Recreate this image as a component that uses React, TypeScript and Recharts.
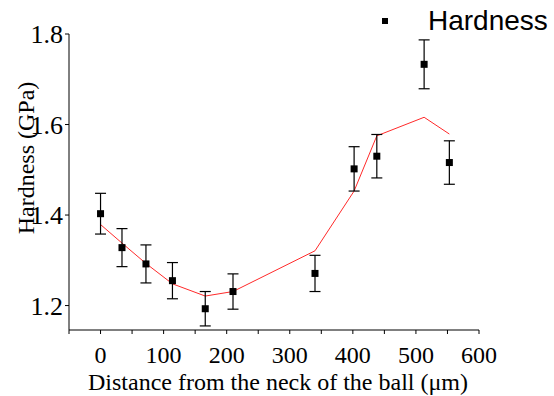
import { ComposedChart, Line, Scatter, ErrorBar, XAxis, YAxis, Legend } from 'recharts';

const distance = [0, 34, 72, 114, 166, 210, 340, 402, 438, 513, 553];
const hardness = [1.403, 1.328, 1.292, 1.255, 1.193, 1.231, 1.271, 1.502, 1.53, 1.733, 1.516];
const hardnessErr = [0.045, 0.042, 0.042, 0.04, 0.038, 0.039, 0.04, 0.049, 0.048, 0.054, 0.048];
const fitted = [1.379, 1.338, 1.293, 1.248, 1.221, 1.231, 1.321, 1.453, 1.575, 1.616, 1.579];

const xTicks = [-50, 0, 50, 100, 150, 200, 250, 300, 350, 400, 450, 500, 550, 600];
const yTicks = [1.2, 1.4, 1.6, 1.8];

const data = distance.map((d, i) => ({
  x: d,
  hardness: hardness[i],
  err: hardnessErr[i],
  fit: fitted[i],
}));

const SERIF = '"Liberation Serif", "Times New Roman", serif';
const SANS = '"Liberation Sans", Arial, sans-serif';

const SquareDot = (props: any) => {
  const { cx, cy } = props;
  if (cx == null || cy == null) return null;
  return <rect x={cx - 3.5} y={cy - 3.5} width={7} height={7} fill="#000" />;
};

const renderLegend = (props: any) => {
  const items = (props.payload || []).filter((p: any) => p.type !== 'none');
  return (
    <svg width={184} height={40}>
      {items.map((entry: any, i: number) => (
        <g key={i}>
          <rect x={12} y={18} width={6} height={6} fill="#000" />
          <text x={58} y={30} fontFamily={SANS} fontSize={28} fill="#000">
            {entry.value}
          </text>
        </g>
      ))}
    </svg>
  );
};

const XTitle = (props: any) => {
  const vb = props.viewBox || {};
  return (
    <text x={vb.x + vb.width / 2 + 4} y={vb.y + 60} textAnchor="middle" fontFamily={SERIF} fontSize={24} fill="#000">
      Distance from the neck of the ball (μm)
    </text>
  );
};

const YTitle = () => (
  <text x={34} y={158} transform="rotate(-90, 34, 158)" textAnchor="middle" fontFamily={SERIF} fontSize={24} fill="#000">
    Hardness (GPa)
  </text>
);

export default function App() {
  return (
    <div style={{ position: 'absolute', left: 0, top: 0, width: 554, height: 396, background: '#fff' }}>
      <ComposedChart width={554} height={396} data={data} margin={{ top: 34, right: 75, bottom: 0, left: 0 }}>
        <XAxis
          dataKey="x"
          type="number"
          domain={[-50, 600]}
          ticks={xTicks}
          interval={0}
          tickFormatter={(v: number) => (v % 100 === 0 ? String(v) : '')}
          height={66}
          tickSize={4}
          tickMargin={12}
          stroke="#000"
          tick={{ fill: '#000', fontFamily: SERIF, fontSize: 24 }}
          label={<XTitle />}
        />
        <YAxis
          type="number"
          domain={[1.146, 1.8]}
          ticks={yTicks}
          interval={0}
          width={69}
          tickSize={4}
          tickMargin={2}
          stroke="#000"
          tickFormatter={(v: number) => v.toFixed(1)}
          tick={{ fill: '#000', fontFamily: SERIF, fontSize: 26 }}
          label={<YTitle />}
        />
        <Legend
          content={renderLegend}
          layout="horizontal"
          verticalAlign="middle"
          align="center"
          wrapperStyle={{ position: 'absolute', top: 0, left: 370, width: 184, height: 40 }}
        />
        <Line
          type="linear"
          dataKey="fit"
          stroke="#ff2a2a"
          strokeWidth={1}
          dot={false}
          activeDot={false}
          legendType="none"
          isAnimationActive={false}
        />
        <Scatter name="Hardness" dataKey="hardness" fill="#000" shape={SquareDot} isAnimationActive={false}>
          <ErrorBar dataKey="err" direction="y" width={5.5} stroke="#000" strokeWidth={1.2} />
        </Scatter>
      </ComposedChart>
    </div>
  );
}
